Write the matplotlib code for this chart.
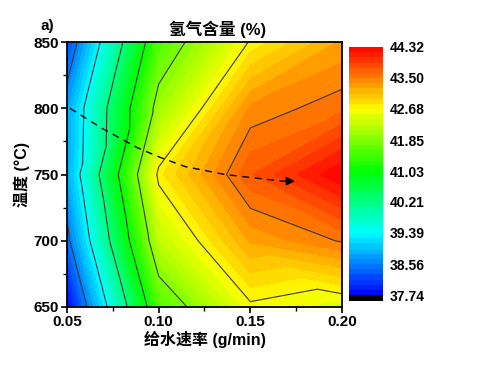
import numpy as np
import matplotlib
matplotlib.use('Agg')
import matplotlib.pyplot as plt
import matplotlib.tri as mtri
from matplotlib.colors import LinearSegmentedColormap
from matplotlib.ticker import MultipleLocator

plt.rcParams['font.family'] = ['Liberation Sans', 'Noto Sans CJK SC']
plt.rcParams['font.weight'] = 'bold'

# water feed rate (g/min) and temperature (C) grid
water = [0.05, 0.10, 0.15, 0.20]
temp = [650, 700, 750, 800, 850]
# hydrogen content (%), one row per temperature
h2 = [
    [37.74, 41.50, 42.63, 42.47],
    [38.44, 42.25, 43.25, 43.52],
    [38.84, 42.76, 43.76, 44.32],
    [38.79, 42.05, 43.39, 43.60],
    [38.19, 41.50, 42.71, 43.25],
]
cbar_ticks = ['37.74', '38.56', '39.39', '40.21', '41.03', '41.85', '42.68', '43.50', '44.32']

# dashed trend arrow
arrow_x = [0.0516, 0.0689, 0.0887, 0.1007, 0.1144, 0.1362, 0.1673]
arrow_y = [800, 785, 770, 763, 756, 750, 745]
arrow_tip = (0.1744, 745)

# build triangulated grid (like Origin)
X, Y = np.meshgrid(water, temp)
Z = np.array(h2)
nx, ny = len(water), len(temp)
tris = []
for j in range(ny - 1):
    for i in range(nx - 1):
        p00 = j * nx + i
        p10 = p00 + 1
        p01 = p00 + nx
        p11 = p01 + 1
        if temp[j] >= 750:
            tris += [[p00, p10, p11], [p00, p11, p01]]
        else:
            tris += [[p00, p10, p01], [p10, p11, p01]]
tri = mtri.Triangulation(X.ravel(), Y.ravel(), tris)

cmap = LinearSegmentedColormap.from_list(
    'origin_rainbow', ['#0000ff', '#00ffff', '#00ff00', '#ffff00', '#ff0000'])
cmap.set_under('black')

vmin, vmax = 37.74, 44.32
levels = np.linspace(vmin, vmax, 49)
line_levels = [float(t) for t in cbar_ticks[1:-1]]

fig = plt.figure(figsize=(4.82, 3.71), dpi=100)
ax = fig.add_axes([67/482, 1-307/371, 275/482, 265/371])

cs = ax.tricontourf(tri, Z.ravel(), levels=levels, cmap=cmap, extend='min')
ax.tricontour(tri, Z.ravel(), levels=line_levels, colors='#3a3a3a', linewidths=0.8)

ax.plot(arrow_x, arrow_y, color='black', lw=1.0, dashes=(5, 4))
ax.annotate('', xy=arrow_tip, xytext=(arrow_x[-1], arrow_y[-1]),
            arrowprops=dict(arrowstyle='-|>', color='black', lw=1.0,
                            mutation_scale=13, shrinkA=0, shrinkB=0))

ax.set_xlim(0.05, 0.20)
ax.set_ylim(650, 850)
ax.set_xticks(water)
ax.set_xticklabels(['0.05', '0.10', '0.15', '0.20'])
ax.set_yticks(temp)
ax.xaxis.set_minor_locator(MultipleLocator(0.025))
ax.yaxis.set_minor_locator(MultipleLocator(25))
ax.tick_params(which='major', direction='out', length=4, width=1.2, labelsize=11, pad=2)
ax.tick_params(which='minor', direction='out', length=3, width=1.0)
for s in ax.spines.values():
    s.set_linewidth(1.3)

ax.set_xlabel('给水速率 (g/min)', fontsize=11.5, fontweight='bold', labelpad=1)
ax.set_ylabel('温度 (°C)', fontsize=11.5, fontweight='bold', labelpad=2)
fig.text(218/482, 1-29/371, '氢气含量 (%)', fontsize=12, fontweight='bold',
         ha='center', va='center')
fig.text(47/482, 1-26/371, 'a)', fontsize=11, fontweight='bold',
         ha='center', va='center')

cax = fig.add_axes([349/482, 1-301/371, 34/482, 254/371])
cb = fig.colorbar(cs, cax=cax, extendrect=True, extendfrac=6/254)
cb.set_ticks([float(t) for t in cbar_ticks])
cb.set_ticklabels(cbar_ticks)
cb.outline.set_visible(False)
cax.tick_params(length=0, labelsize=10, pad=5)

fig.savefig('out.png', dpi=100)
